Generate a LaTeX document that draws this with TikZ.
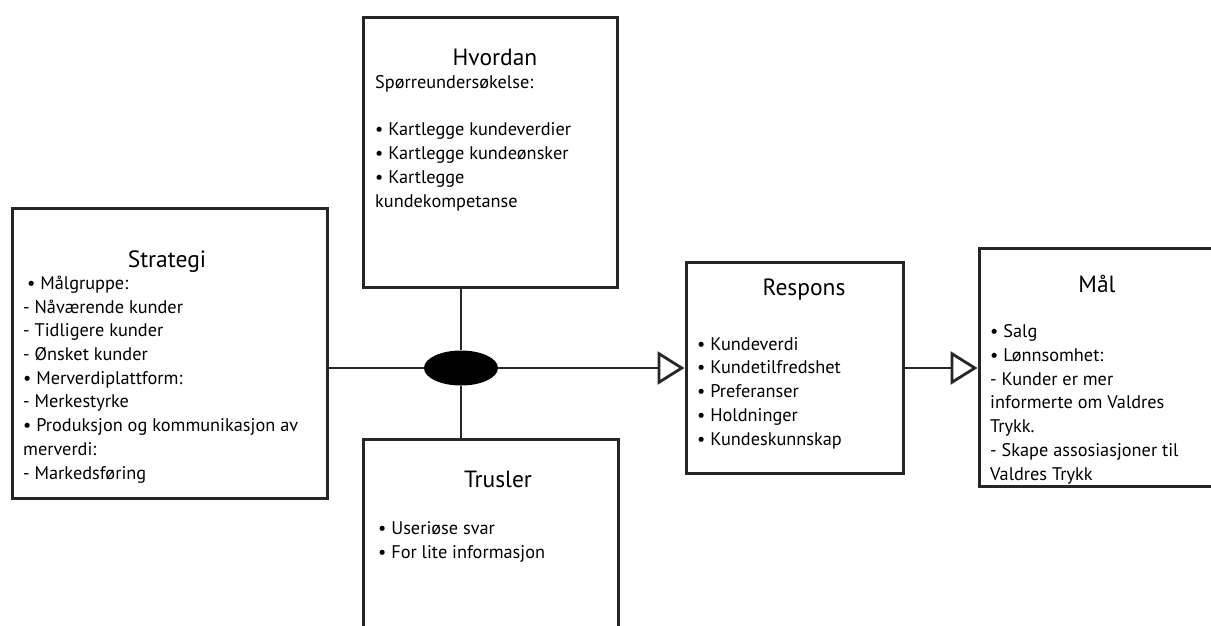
\documentclass[tikz,border=0pt]{standalone}
\usepackage{fontspec}
\setmainfont{PT Sans}
\usetikzlibrary{arrows.meta,shapes.geometric}

\begin{document}
\begin{tikzpicture}[x=1pt,y=-1pt,>={Triangle[open,length=27pt,width=33pt]}]
        \tikzstyle{box}=[rectangle,draw=black!85,line width=3pt,inner sep=0pt]
        \tikzstyle{title}=[anchor=base,inner sep=0pt,font=\fontsize{23.5}{28}\selectfont]
        \tikzstyle{body}=[align=left,anchor=base west,inner sep=0pt,font=\fontsize{18.3}{23.7}\selectfont]
        \tikzstyle{link}=[draw=black!85,line width=2.8pt]
        \useasboundingbox (0,0) rectangle (1211,625);
        \clip (0,0) rectangle (1211,625);
        % boxes
        \node[box,minimum width=315pt,minimum height=290pt](strat) at (169.5,353){};
        \node[box,minimum width=254pt,minimum height=270pt](how) at (490,152){};
        \node[box,minimum width=255pt,minimum height=261pt](threat) at (490.5,569.5){};
        \node[box,minimum width=217pt,minimum height=211pt](resp) at (794.5,367.5){};
        \node[box,minimum width=271pt,minimum height=238pt](goal) at (1114.5,367){};
        \node[ellipse,fill=black,minimum width=74pt,minimum height=35pt,inner sep=0pt](mid) at (461,368){};
        % connectors
        \draw[link] (mid) -- (mid |- how.south);
        \draw[link] (mid) -- (mid |- threat.north);
        \draw[link] (strat.east |- mid) -- (mid.west);
        \draw[link,->] (mid.east) -- (resp.west |- mid);
        \draw[link,->] (resp.east |- mid) -- (goal.west |- mid);
        % texts (body nodes sit on the baseline of their last line)
        \node[title](strat-t) at (167,267){Strategi};
        \node[body](strat-b) at (23,479){\hspace*{4pt}• Målgruppe:\\- Nåværende kunder\\- Tidligere kunder\\- Ønsket kunder\\• Merverdiplattform:\\- Merkestyrke\\• Produksjon og kommunikasjon av\\merverdi:\\- Markedsføring};
        \node[title](how-t) at (495,65){Hvordan};
        \node[body](how-b) at (375,207){Spørreundersøkelse:\\[23.7pt]• Kartlegge kundeverdier\\• Kartlegge kundeønsker\\• Kartlegge\\kundekompetanse};
        \node[title](threat-t) at (498,487){Trusler};
        \node[body](threat-b) at (378,558){• Useriøse svar\\• For lite informasjon};
        \node[title](resp-t) at (804,295){Respons};
        \node[body](resp-b) at (697,445){• Kundeverdi\\• Kundetilfredshet\\• Preferanser\\• Holdninger\\• Kundeskunnskap};
        \node[title](goal-t) at (1097,292){Mål};
        \node[body](goal-b) at (990,480){• Salg\\• Lønnsomhet:\\- Kunder er mer\\informerte om Valdres\\Trykk.\\- Skape assosiasjoner til\\Valdres Trykk};
\end{tikzpicture}
\end{document}
